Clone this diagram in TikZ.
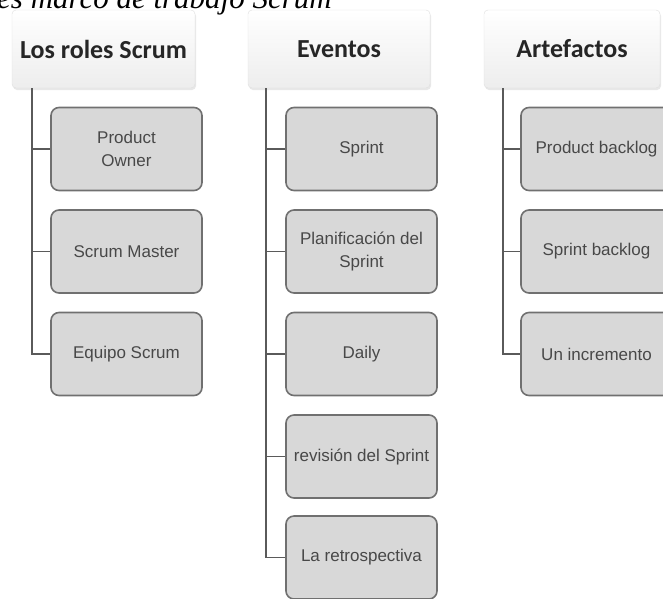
\documentclass[tikz,border=0pt]{standalone}
\usepackage{fontspec}
\setmainfont{Liberation Sans}
\newfontfamily\hdrfont{Carlito}
\newfontfamily\capfont{Liberation Serif}
\usetikzlibrary{shadows}
\definecolor{boxfill}{HTML}{D8D8D8}
\definecolor{boxline}{HTML}{707070}
\definecolor{txtgray}{HTML}{484848}
\definecolor{connc}{HTML}{5A5A5A}
\tikzset{
  hdrbox/.style={rectangle, rounded corners=4pt, draw=gray!25, top color=white, bottom color=gray!14,
     minimum height=78pt, inner sep=0pt, font=\hdrfont\bfseries\fontsize{26}{30}\selectfont, text=black!85,
     drop shadow={shadow xshift=1pt, shadow yshift=-2pt, opacity=0.18}},
  childbox/.style={rectangle, rounded corners=8pt, draw=boxline, line width=1.6pt, fill=boxfill,
     minimum width=151pt, minimum height=83pt, inner sep=0pt, align=center,
     font=\fontsize{17}{23}\selectfont, text=txtgray},
  conn/.style={draw=connc, line width=1.6pt}
}
\begin{document}
\begin{tikzpicture}[x=1pt,y=-1pt]
\useasboundingbox (0,0) rectangle (663,598);
\clip (0,0) rectangle (663,598);
\node[anchor=base west, inner sep=0pt, font=\capfont\itshape\fontsize{31}{36}\selectfont] (cap) at (-3,8.5) {es marco de trabajo Scrum};
% headers
\node[hdrbox, minimum width=183pt] (roles) at (103.5,49) {Los roles Scrum};
\node[hdrbox, minimum width=182pt] (events) at (339,49) {Eventos};
\node[hdrbox, minimum width=176pt] (arts) at (572,49) {Artefactos};
% roles children
\node[childbox] (po) at (126.5,149) {Product\\Owner};
\node[childbox] (sm) at (126.5,251.5) {Scrum Master};
\node[childbox] (es) at (126.5,354) {Equipo Scrum};
% events children
\node[childbox] (sp) at (361.5,149) {Sprint};
\node[childbox] (pl) at (361.5,251.5) {Planificación del\\Sprint};
\node[childbox] (da) at (361.5,354) {Daily};
\node[childbox] (re) at (361.5,456.5) {revisión del Sprint};
\node[childbox] (rt) at (361.5,557.5) {La retrospectiva};
% artefacts children
\node[childbox] (pb) at (596.5,149) {Product backlog};
\node[childbox] (sb) at (596.5,251.5) {Sprint backlog};
\node[childbox] (ui) at (596.5,354) {Un incremento};
% connectors
\coordinate (rtop) at (32,88);
\coordinate (etop) at (266,88);
\coordinate (atop) at (503,88);
\foreach \c in {po,sm,es}{\draw[conn] (rtop) |- (\c.west);}
\foreach \c in {sp,pl,da,re,rt}{\draw[conn] (etop) |- (\c.west);}
\foreach \c in {pb,sb,ui}{\draw[conn] (atop) |- (\c.west);}
\end{tikzpicture}
\end{document}
